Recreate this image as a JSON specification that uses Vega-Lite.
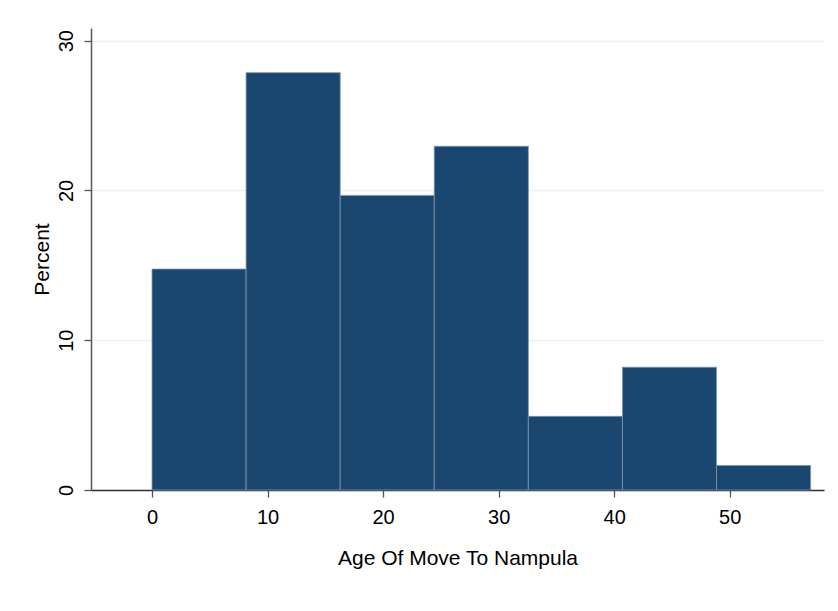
{
  "$schema": "https://vega.github.io/schema/vega-lite/v6.json",
  "autosize": "none",
  "width": 733,
  "height": 462,
  "padding": {"left": 91, "top": 28, "right": 14, "bottom": 121},
  "background": "white",
  "config": {
    "view": {"stroke": null},
    "font": "Liberation Sans",
    "axis": {
      "labelFont": "Liberation Sans",
      "titleFont": "Liberation Sans",
      "labelColor": "#000000",
      "titleColor": "#000000",
      "titleFontWeight": "normal",
      "labelFontSize": 20,
      "titleFontSize": 21,
      "domainColor": "#555555",
      "tickColor": "#555555",
      "domainWidth": 1.5,
      "tickWidth": 1.3,
      "tickSize": 7
    }
  },
  "data": {
    "values": [
      {"start": 0, "end": 8.142857, "percent": 14.754},
      {"start": 8.142857, "end": 16.285714, "percent": 27.869},
      {"start": 16.285714, "end": 24.428571, "percent": 19.672},
      {"start": 24.428571, "end": 32.571429, "percent": 22.951},
      {"start": 32.571429, "end": 40.714286, "percent": 4.918},
      {"start": 40.714286, "end": 48.857143, "percent": 8.197},
      {"start": 48.857143, "end": 57, "percent": 1.639}
    ]
  },
  "mark": {"type": "bar", "fill": "#1a476f", "stroke": "#7d94ac", "strokeWidth": 0.8},
  "encoding": {
    "x": {
      "field": "start",
      "type": "quantitative",
      "scale": {"domain": [-5.28, 58.16], "nice": false, "zero": false},
      "axis": {
        "title": "Age Of Move To Nampula",
        "values": [0, 10, 20, 30, 40, 50],
        "grid": false,
        "labelPadding": 10,
        "titlePadding": 20,
        "domainColor": "#333333"
      }
    },
    "x2": {"field": "end"},
    "y": {
      "field": "percent",
      "type": "quantitative",
      "scale": {"domain": [0, 30.85], "nice": false},
      "axis": {
        "title": "Percent",
        "values": [0, 10, 20, 30],
        "labelAngle": 270,
        "labelAlign": "center",
        "labelBaseline": "bottom",
        "labelPadding": 8,
        "titlePadding": 4,
        "grid": true,
        "gridColor": "#eaf2f3",
        "gridWidth": 1.5
      }
    },
    "y2": {"datum": 0}
  }
}
